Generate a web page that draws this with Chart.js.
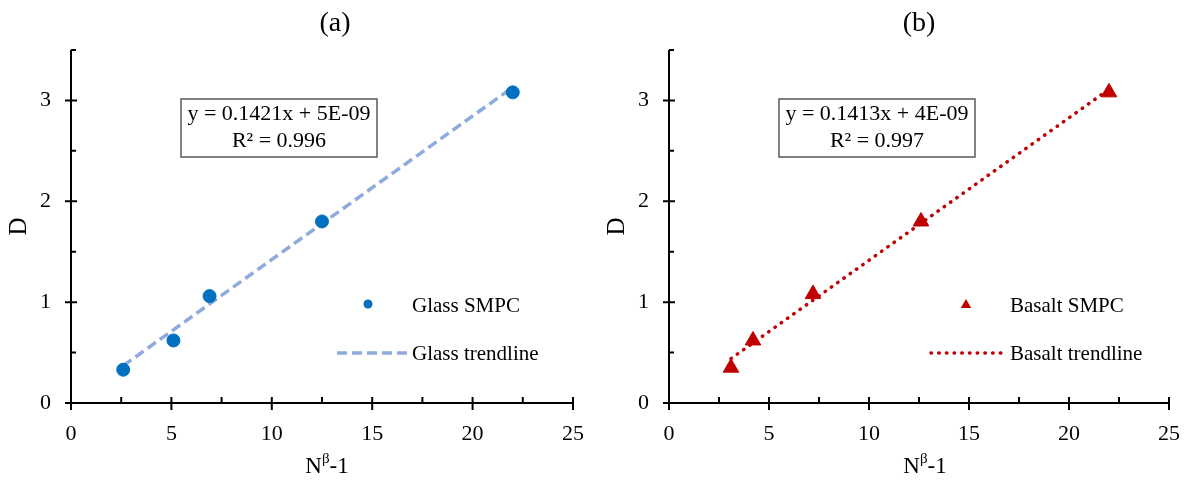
<!DOCTYPE html>
<html><head><meta charset="utf-8">
<script src="https://cdn.jsdelivr.net/npm/chart.js@4.4.0/dist/chart.umd.min.js"></script>
<style>
html,body{margin:0;padding:0;background:#fff;}
#wrap{position:relative;width:1189px;height:484px;overflow:hidden;}
.panel{position:absolute;top:0;height:484px;}
</style></head><body>
<div id="wrap">
<div class="panel" style="left:0;width:595px"><canvas id="cA"></canvas></div>
<div class="panel" style="left:595px;width:594px"><canvas id="cB"></canvas></div>
</div>
<script>
// ---- data ----
const glassX = [2.6, 5.1, 6.9, 12.5, 22.0];
const glassD = [0.33, 0.62, 1.06, 1.80, 3.08];
const glassTrendX = [2.6, 22.0];
const glassTrendD = [0.37, 3.13];
const basaltX = [3.1, 4.2, 7.2, 12.6, 22.0];
const basaltD = [0.35, 0.62, 1.08, 1.80, 3.08];
const basaltTrendX = [3.1, 22.0];
const basaltTrendD = [0.44, 3.11];
const panelTitles = ['(a)', '(b)'];
const glassLegend = ['Glass SMPC', 'Glass trendline'];
const basaltLegend = ['Basalt SMPC', 'Basalt trendline'];
const glassEquation = ['y = 0.1421x + 5E-09', 'R² = 0.996'];
const basaltEquation = ['y = 0.1413x + 4E-09', 'R² = 0.997'];
const xRange = [0, 25];
const yRange = [0, 3.5];
const xLabelStep = 5;   // labelled ticks
const yLabelStep = 1;
const xAxisTitle = ['N', 'β', '-1'];
const yAxisTitle = 'D';

const FONT = "'Liberation Serif', 'Times New Roman', serif";
const pts = (xs, ys) => xs.map((x, i) => ({x, y: ys[i]}));

const decor = {
  id: 'decor',
  beforeDatasetsDraw(chart, args, o) {
    const ctx = chart.ctx, xs = chart.scales.x, ys = chart.scales.y;
    ctx.save();
    ctx.strokeStyle = '#000'; ctx.lineWidth = 2; ctx.lineCap = 'butt';
    const x0 = xs.getPixelForValue(xRange[0]), y0 = ys.getPixelForValue(yRange[0]);
    ctx.beginPath();
    ctx.moveTo(x0, ys.getPixelForValue(yRange[1])); ctx.lineTo(x0, y0 + 1);
    ctx.moveTo(x0 - 1, y0); ctx.lineTo(xs.getPixelForValue(xRange[1]), y0);
    ctx.stroke();
    ctx.beginPath();
    ys.ticks.forEach(t => {
      const y = ys.getPixelForValue(t.value);
      if (Math.abs(t.value / yLabelStep - Math.round(t.value / yLabelStep)) < 1e-6) { ctx.moveTo(x0 - 6, y); ctx.lineTo(x0 + 6, y); }
      else { ctx.moveTo(x0, y); ctx.lineTo(x0 + 5, y); }
    });
    xs.ticks.forEach(t => {
      const x = xs.getPixelForValue(t.value);
      if (Math.abs(t.value / xLabelStep - Math.round(t.value / xLabelStep)) < 1e-6) { ctx.moveTo(x, y0 - 6); ctx.lineTo(x, y0 + 7); }
      else { ctx.moveTo(x, y0); ctx.lineTo(x, y0 - 6); }
    });
    ctx.stroke();
    ctx.restore();
  },
  afterDraw(chart, args, o) {
    const ctx = chart.ctx, a = chart.chartArea;
    ctx.save();
    ctx.fillStyle = '#000';
    // panel title
    ctx.font = '28px ' + FONT; ctx.textAlign = 'center'; ctx.textBaseline = 'alphabetic';
    ctx.fillText(o.title, o.titleX, 31);
    // y axis title
    ctx.save();
    ctx.font = '25px ' + FONT;
    ctx.translate(a.left - 52, (a.top + a.bottom) / 2);
    ctx.rotate(-Math.PI / 2);
    ctx.textBaseline = 'middle'; ctx.textAlign = 'center';
    ctx.fillText(yAxisTitle, 0, 0);
    ctx.restore();
    // x axis title with superscript
    const big = '23px ' + FONT, small = '15px ' + FONT;
    ctx.font = big; const wN = ctx.measureText(xAxisTitle[0]).width, wR = ctx.measureText(xAxisTitle[2]).width;
    ctx.font = small; const wB = ctx.measureText(xAxisTitle[1]).width;
    let sx = a.left + 256 - (wN + wB + wR) / 2, by = 473;
    ctx.textAlign = 'left';
    ctx.font = big; ctx.fillText(xAxisTitle[0], sx, by); sx += wN;
    ctx.font = small; ctx.fillText(xAxisTitle[1], sx, by - 10); sx += wB;
    ctx.font = big; ctx.fillText(xAxisTitle[2], sx, by);
    // equation box
    const bx = a.left + 110, bw = 196, btop = 99, bh = 58;
    ctx.fillStyle = '#fff'; ctx.fillRect(bx, btop, bw, bh);
    ctx.strokeStyle = '#595959'; ctx.lineWidth = 1.5; ctx.strokeRect(bx, btop, bw, bh);
    ctx.fillStyle = '#000'; ctx.font = '22px ' + FONT; ctx.textAlign = 'center';
    ctx.fillText(o.equation[0], bx + bw / 2, 120);
    ctx.fillText(o.equation[1], bx + bw / 2, 147);
    // legend
    const mx = a.left + 297, tx = a.left + 341;
    ctx.textAlign = 'left'; ctx.font = '21px ' + FONT; ctx.fillStyle = '#000';
    ctx.fillText(o.legend[0], tx, 312);
    ctx.fillText(o.legend[1], tx, 360);
    ctx.fillStyle = o.pointColor;
    if (o.pointStyle === 'circle') {
      ctx.beginPath(); ctx.arc(mx, 304, 4.5, 0, Math.PI * 2); ctx.fill();
    } else {
      const r = 6;
      ctx.beginPath();
      ctx.moveTo(mx, 305 - r); ctx.lineTo(mx + r * 0.866, 305 + r / 2); ctx.lineTo(mx - r * 0.866, 305 + r / 2);
      ctx.closePath(); ctx.fill();
    }
    ctx.strokeStyle = o.lineColor; ctx.lineWidth = 3.5; ctx.lineCap = o.lineCap;
    ctx.setLineDash(o.dash);
    ctx.beginPath(); ctx.moveTo(a.left + o.lineX[0], 353); ctx.lineTo(a.left + o.lineX[1], 353); ctx.stroke();
    ctx.restore();
  }
};

function makeChart(id, cfg) {
  return new Chart(document.getElementById(id), {
    type: 'scatter',
    data: { datasets: [
      { data: pts(cfg.px, cfg.py), pointStyle: cfg.pointStyle, pointRadius: cfg.radius,
        backgroundColor: cfg.pointColor, borderColor: cfg.pointColor, borderWidth: 1, order: 0 },
      { type: 'line', data: pts(cfg.tx, cfg.ty), showLine: true, pointRadius: 0,
        borderColor: cfg.lineColor, borderWidth: 3.5, borderDash: cfg.dash, borderCapStyle: cfg.lineCap, fill: false, order: 1 }
    ]},
    options: {
      responsive: true, maintainAspectRatio: false, animation: false, events: [],
      layout: { padding: { top: 50, right: cfg.padRight, left: 0, bottom: 0 } },
      plugins: { legend: { display: false }, tooltip: { enabled: false },
        decor: { title: cfg.title, titleX: cfg.titleX, equation: cfg.equation, legend: cfg.legend,
          pointColor: cfg.pointColor, pointStyle: cfg.pointStyle, lineColor: cfg.lineColor,
          dash: cfg.dash, lineCap: cfg.lineCap, lineX: cfg.legendLineX } },
      scales: {
        x: { type: 'linear', min: xRange[0], max: xRange[1], border: { display: false },
          grid: { display: false, drawTicks: false },
          afterFit: s => { s.height = 81; s.paddingLeft = 0; s.paddingRight = 0; },
          ticks: { stepSize: 2.5, autoSkip: false, maxRotation: 0, padding: 18, color: '#000',
            font: { family: FONT, size: 22 },
            callback: v => (Math.abs(v / xLabelStep - Math.round(v / xLabelStep)) < 1e-6 ? String(v) : '') } },
        y: { type: 'linear', min: yRange[0], max: yRange[1], border: { display: false },
          grid: { display: false, drawTicks: false },
          afterFit: s => { s.width = cfg.axisLeft; s.paddingTop = 0; s.paddingBottom = 0; },
          ticks: { stepSize: 0.5, autoSkip: false, padding: 20, color: '#000',
            font: { family: FONT, size: 22 },
            callback: v => (Math.abs(v / yLabelStep - Math.round(v / yLabelStep)) < 1e-6 ? String(v) : '') } }
      }
    },
    plugins: [decor]
  });
}

makeChart('cA', { px: glassX, py: glassD, tx: glassTrendX, ty: glassTrendD,
  pointStyle: 'circle', radius: 6.5, pointColor: '#0070C0', lineColor: '#8FAADC',
  dash: [10, 5], lineCap: 'butt', title: panelTitles[0], titleX: 335,
  equation: glassEquation, legend: glassLegend, axisLeft: 71, padRight: 22, legendLineX: [266, 336] });
makeChart('cB', { px: basaltX, py: basaltD, tx: basaltTrendX, ty: basaltTrendD,
  pointStyle: 'triangle', radius: 9, pointColor: '#C00000', lineColor: '#C00000',
  dash: [0.5, 7.2], lineCap: 'round', title: panelTitles[1], titleX: 324,
  equation: basaltEquation, legend: basaltLegend, axisLeft: 74, padRight: 20, legendLineX: [262, 332] });
</script>
</body></html>
